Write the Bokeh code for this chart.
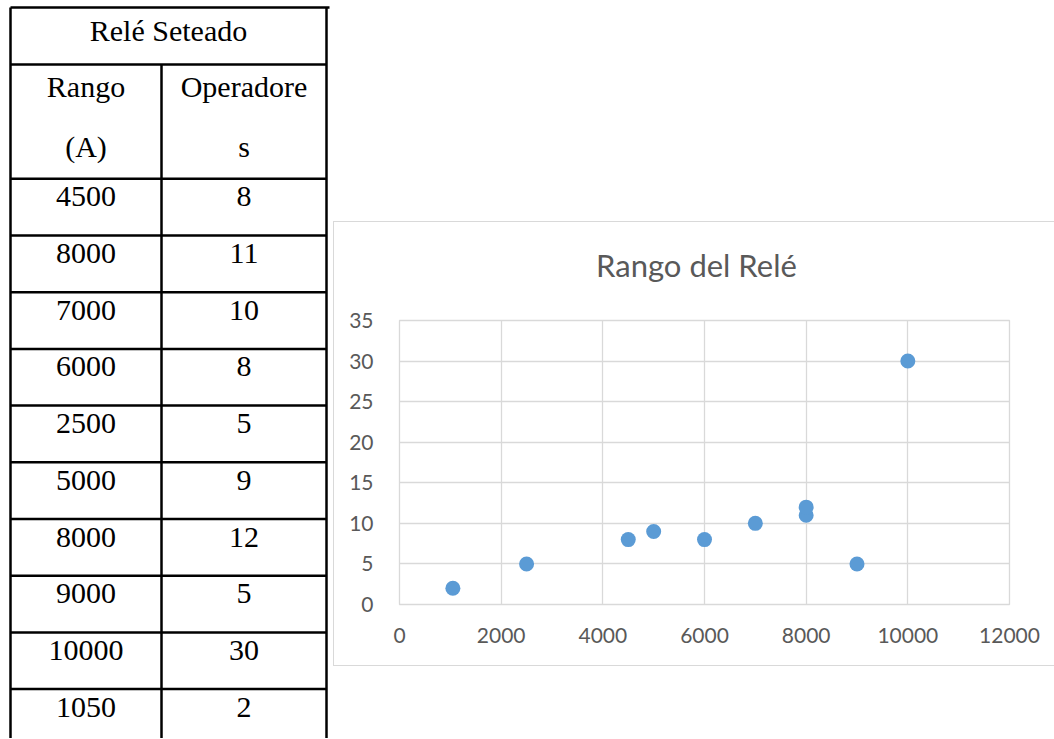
from bokeh.plotting import figure
from bokeh.models import Range1d, FixedTicker, Spacer
from bokeh.layouts import row, column
from bokeh.core.properties import value
from bokeh.embed import file_html
from bokeh.resources import INLINE

# ---------------- data ----------------
rango = [4500, 8000, 7000, 6000, 2500, 5000, 8000, 9000, 10000, 1050]
operadores = [8, 11, 10, 8, 5, 9, 12, 5, 30, 2]
table_title = "Relé Seteado"
col1_header = ["Rango", "(A)"]
col2_header = ["Operadore", "s"]
chart_title = "Rango del Relé"
x_ticks = [0, 2000, 4000, 6000, 8000, 10000, 12000]
y_ticks = [0, 5, 10, 15, 20, 25, 30, 35]

# ---------------- table (pixel-space figure) ----------------
TW, TH = 333, 738
t = figure(width=TW, height=TH, x_range=Range1d(0, TW), y_range=Range1d(TH, 0),
           x_axis_type=None, y_axis_type=None, toolbar_location=None,
           output_backend="svg", min_border=0, outline_line_color=None)

left_x, mid_x, right_x = 10, 161, 326
top_y, head_y, sub_y = 7, 64, 178.3
row_h = 56.7
n = len(rango)
row_tops = [sub_y + row_h * i for i in range(n + 1)]

hy = [top_y, head_y] + row_tops
t.segment(x0=[left_x] * len(hy), x1=[right_x + 3] + [right_x] * (len(hy) - 1), y0=hy, y1=hy,
          line_color="black", line_width=2.5)
t.segment(x0=[left_x, right_x, mid_x], x1=[left_x, right_x, mid_x],
          y0=[top_y, top_y, head_y], y1=[TH + 20] * 3, line_color="black", line_width=2.5)

serif = value("Liberation Serif")
fs = "30px"
c1 = (left_x + mid_x) / 2
c2 = (mid_x + right_x) / 2
t.text(x=[(left_x + right_x) / 2], y=[30], text=[table_title], text_font=serif,
       text_font_size=fs, text_align="center", text_baseline="alphabetic", text_color="black")
t.text(x=[c1, c1, c2, c2], y=[86, 146, 86, 146],
       text=[col1_header[0], col1_header[1], col2_header[0], col2_header[1]],
       text_font=serif, text_font_size=fs, text_align="center", text_baseline="alphabetic",
       text_color="black")
ys = [rt + 18 for rt in row_tops[:n]]
t.text(x=[c1] * n, y=ys, text=[str(v) for v in rango], text_font=serif, text_font_size=fs,
       text_align="center", text_baseline="alphabetic", text_color="black")
t.text(x=[c2] * n, y=ys, text=[str(v) for v in operadores], text_font=serif, text_font_size=fs,
       text_align="center", text_baseline="alphabetic", text_color="black")

# ---------------- chart title strip ----------------
CW = 721
TTH = 85
tt = figure(width=CW, height=TTH, x_range=Range1d(0, CW), y_range=Range1d(TTH, 0),
            x_axis_type=None, y_axis_type=None, toolbar_location=None,
            output_backend="svg", min_border=0, outline_line_color=None)
tt.styles = {"border-top": "1px solid #d9d9d9", "border-left": "1px solid #d9d9d9"}
tt.text(x=[351], y=[42], text=[chart_title], text_font=value("Lato"), text_font_size="31px",
        text_color="#595959", text_align="center", text_baseline="alphabetic")

# ---------------- chart ----------------
c = figure(width=CW, height=360, x_range=Range1d(0, 12000), y_range=Range1d(0, 35),
           toolbar_location=None, output_backend="svg",
           min_border_left=65, min_border_right=46, min_border_top=14, min_border_bottom=62)
c.styles = {"border-bottom": "1px solid #d9d9d9", "border-left": "1px solid #d9d9d9"}
c.outline_line_color = "#d9d9d9"
c.outline_line_width = 1.3

for ax in (c.xaxis[0], c.yaxis[0]):
    ax.axis_line_color = None
    ax.major_tick_line_color = None
    ax.minor_tick_line_color = None
    ax.major_label_text_font = "Lato"
    ax.major_label_text_font_size = "21px"
    ax.major_label_text_color = "#595959"
c.xaxis.ticker = FixedTicker(ticks=x_ticks)
c.yaxis.ticker = FixedTicker(ticks=y_ticks)
c.xaxis.major_label_standoff = 17
c.yaxis.major_label_standoff = 20
c.xgrid.ticker = FixedTicker(ticks=x_ticks)
c.ygrid.ticker = FixedTicker(ticks=y_ticks)
c.grid.grid_line_color = "#d9d9d9"
c.grid.grid_line_width = 1.3

c.scatter(x=rango, y=operadores, size=15, fill_color="#5B9BD5", line_color=None)

layout = row(t, column(Spacer(width=CW, height=221), tt, c))

open("out.html", "w").write(file_html(layout, INLINE))
